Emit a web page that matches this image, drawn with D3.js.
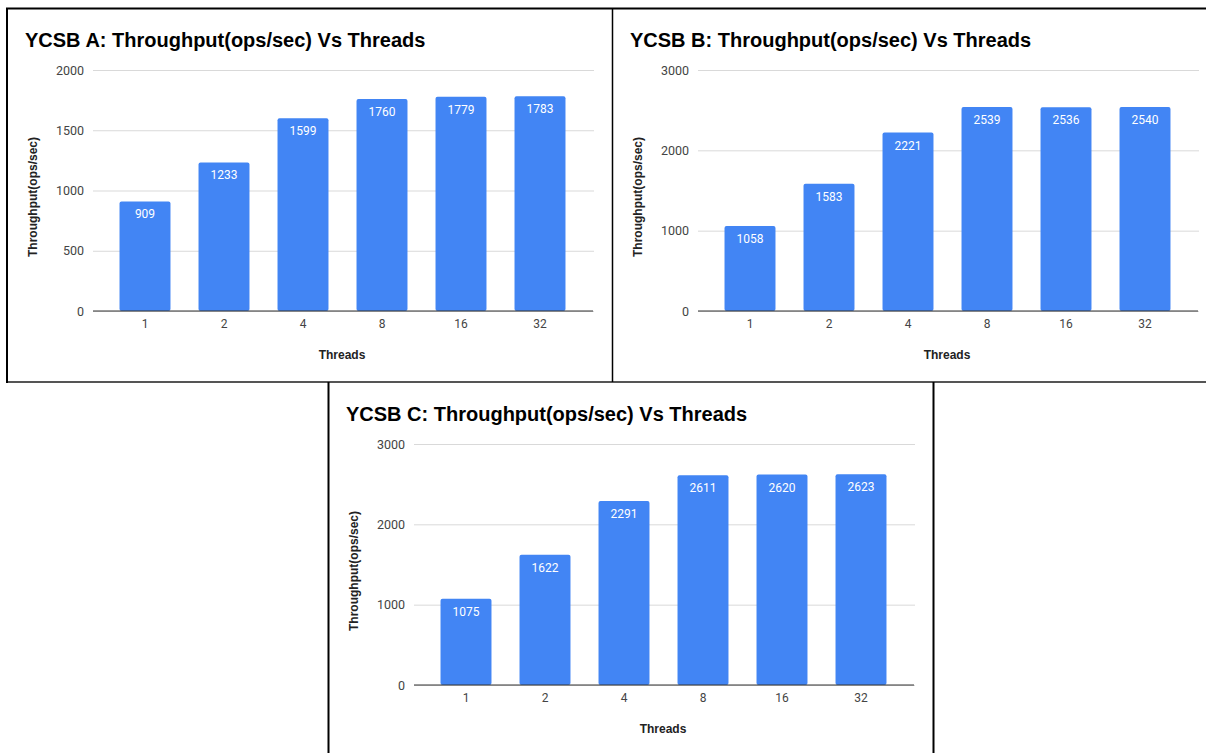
<!DOCTYPE html>
<html>
<head>
<meta charset="utf-8">
<script src="https://cdn.jsdelivr.net/npm/d3@7"></script>
<style>
  html, body { margin: 0; padding: 0; background: #fff; }
  svg { display: block; }
</style>
</head>
<body>
<svg id="chart" width="1206" height="753"></svg>
<script>
// Thread counts on the x axis
const threads = ["1", "2", "4", "8", "16", "32"];

// Throughput (ops/sec) per workload
const ycsbA = [909, 1233, 1599, 1760, 1779, 1783];
const ycsbB = [1058, 1583, 2221, 2539, 2536, 2540];
const ycsbC = [1075, 1622, 2291, 2611, 2620, 2623];

// Y axis ticks per workload
const ticksA = [0, 500, 1000, 1500, 2000];
const ticksB = [0, 1000, 2000, 3000];
const ticksC = [0, 1000, 2000, 3000];

const titles = [
  "YCSB A: Throughput(ops/sec) Vs Threads",
  "YCSB B: Throughput(ops/sec) Vs Threads",
  "YCSB C: Throughput(ops/sec) Vs Threads"
];

const svg = d3.select("#chart");
const BAR = "#4285F4";
const titleFont = "'Liberation Sans', Arial, sans-serif";
const labelFont = "Roboto, 'Liberation Sans', Arial, sans-serif";

function panel(ox, oy, title, values, ticks) {
  const g = svg.append("g").attr("transform", `translate(${ox},${oy})`);

  const x = d3.scaleBand().domain(threads).range([98.5, 572.5]).paddingInner(0.355).paddingOuter(0.1775);
  const y = d3.scaleLinear().domain([0, d3.max(ticks)]).range([303, 62]);

  // title
  g.append("text").attr("x", 18).attr("y", 39)
    .attr("font-family", titleFont).attr("font-weight", "bold").attr("font-size", 20)
    .attr("fill", "#000").text(title);

  // horizontal gridlines + tick labels
  const yAxis = d3.axisLeft(y).tickValues(ticks).tickFormat(d3.format("d")).tickSize(-501).tickPadding(8);
  const ya = g.append("g").attr("transform", "translate(85,0)").call(yAxis);
  ya.select(".domain").remove();
  ya.selectAll(".tick line").attr("stroke", "#d9d9d9").attr("stroke-width", 1)
    .attr("transform", "translate(1,0)");
  ya.selectAll(".tick text").attr("font-family", labelFont).attr("font-size", 12.5)
    .attr("fill", "#444");

  // bars
  g.selectAll("rect.bar").data(values).join("rect").attr("class", "bar")
    .attr("x", (d, i) => x(threads[i]))
    .attr("width", x.bandwidth())
    .attr("y", d => y(d))
    .attr("height", d => y(0) - y(d))
    .attr("rx", 2).attr("fill", BAR);

  // value labels inside the bar tops
  g.selectAll("text.val").data(values).join("text").attr("class", "val")
    .attr("x", (d, i) => x(threads[i]) + x.bandwidth() / 2)
    .attr("y", d => y(d) + 17)
    .attr("text-anchor", "middle")
    .attr("font-family", labelFont).attr("font-size", 12)
    .attr("fill", "#fff").text(d => d);

  // baseline + category labels
  const xAxis = d3.axisBottom(x).tickSize(0).tickPadding(8);
  const xa = g.append("g").attr("transform", `translate(0,${y(0)})`).call(xAxis);
  xa.select(".domain").remove();
  xa.selectAll(".tick text").attr("font-family", labelFont).attr("font-size", 12).attr("fill", "#444");
  g.append("line").attr("x1", 86).attr("x2", 586).attr("y1", y(0)).attr("y2", y(0))
    .attr("stroke", "#333").attr("stroke-width", 1);

  // axis titles
  g.append("text").attr("x", 335).attr("y", 351).attr("text-anchor", "middle")
    .attr("font-family", titleFont).attr("font-weight", "bold").attr("font-size", 12)
    .attr("fill", "#222").text("Threads");
  g.append("text").attr("transform", "translate(30,189) rotate(-90)").attr("text-anchor", "middle")
    .attr("font-family", titleFont).attr("font-weight", "bold").attr("font-size", 12)
    .attr("fill", "#222").text("Throughput(ops/sec)");
}

panel(7, 8, titles[0], ycsbA, ticksA);
panel(612, 8, titles[1], ycsbB, ticksB);
panel(328, 382, titles[2], ycsbC, ticksC);

// panel frames
const frame = svg.append("g").attr("fill", "none");
frame.append("line").attr("x1", 6).attr("x2", 1206).attr("y1", 8.5).attr("y2", 8.5).attr("stroke", "#000").attr("stroke-width", 2);
frame.append("line").attr("x1", 6).attr("x2", 1206).attr("y1", 382).attr("y2", 382).attr("stroke", "#555").attr("stroke-width", 2);
frame.append("line").attr("x1", 7).attr("x2", 7).attr("y1", 8).attr("y2", 383).attr("stroke", "#000").attr("stroke-width", 2);
frame.append("line").attr("x1", 612.5).attr("x2", 612.5).attr("y1", 8).attr("y2", 382).attr("stroke", "#000").attr("stroke-width", 1.5);
frame.append("line").attr("x1", 328.5).attr("x2", 328.5).attr("y1", 382).attr("y2", 753).attr("stroke", "#000").attr("stroke-width", 2);
frame.append("line").attr("x1", 933.5).attr("x2", 933.5).attr("y1", 382).attr("y2", 753).attr("stroke", "#000").attr("stroke-width", 2);
</script>
</body>
</html>
